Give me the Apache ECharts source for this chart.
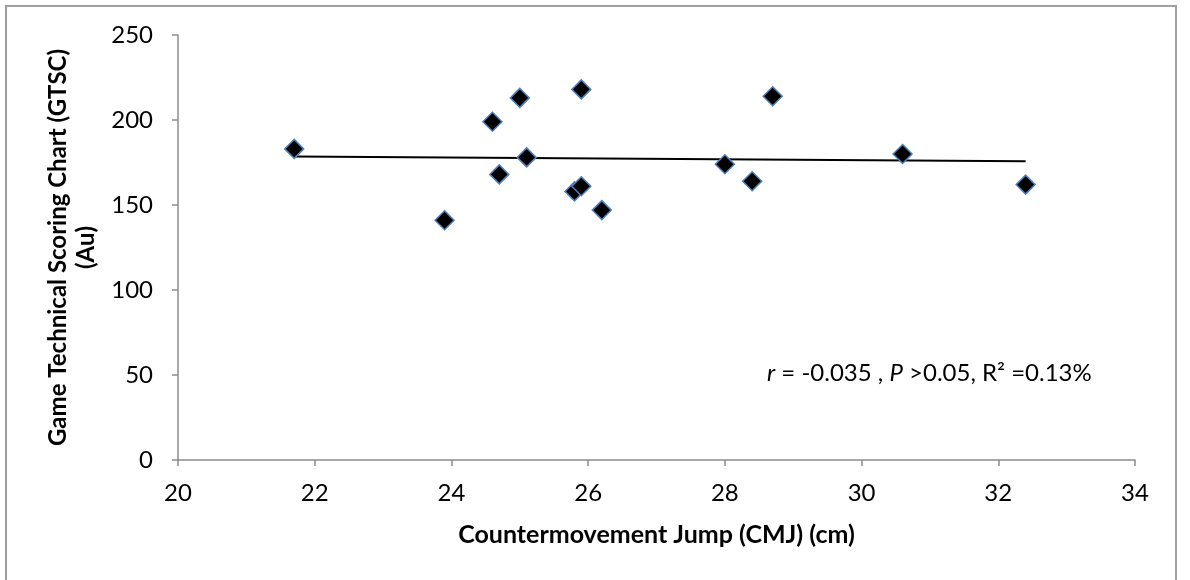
<!DOCTYPE html>
<html>
<head>
<meta charset="utf-8">
<script src="https://cdn.jsdelivr.net/npm/echarts@6/dist/echarts.min.js"></script>
<style>
html,body{margin:0;padding:0;background:#fff;}
#frame{position:absolute;left:5px;top:5px;width:1172px;height:600px;border:2px solid #a0a0a0;box-sizing:border-box;}
#chart{position:absolute;left:0;top:0;width:1190px;height:580px;}
</style>
</head>
<body>
<div id="frame"></div>
<div id="chart"></div>
<script>
const cmj = [21.7, 23.9, 24.6, 24.7, 25.0, 25.1, 25.8, 25.9, 25.9, 26.2, 28.0, 28.4, 28.7, 30.6, 32.4];
const gtsc = [183, 141, 199, 168, 213, 178, 158, 161, 218, 147, 174, 164, 214, 180, 162];
const trendX = [21.7, 32.4];
const trendY = [178.6, 175.8];
const xTitle = 'Countermovement Jump (CMJ) (cm)';
const yTitle = 'Game Technical Scoring Chart (GTSC)\n(Au)';
const FONT = 'Lato';

const chart = echarts.init(document.getElementById('chart'));
const axisLine = {show: true, onZero: false, lineStyle: {color: '#8c8c8c', width: 1.5}};
chart.setOption({
  animation: false,
  grid: {left: 178, right: 55, top: 35, bottom: 120},
  xAxis: {
    type: 'value', min: 20, max: 34, interval: 2,
    axisLine: axisLine,
    axisTick: {show: true, length: 6, lineStyle: {color: '#8c8c8c', width: 1.5}},
    splitLine: {show: false},
    axisLabel: {color: '#000', fontFamily: FONT, fontSize: 24, margin: 21},
    name: xTitle, nameLocation: 'middle', nameGap: 62,
    nameTextStyle: {color: '#000', fontFamily: FONT, fontSize: 25, fontWeight: 'bold'}
  },
  yAxis: {
    type: 'value', min: 0, max: 250, interval: 50,
    axisLine: axisLine,
    axisTick: {show: true, length: 6, lineStyle: {color: '#8c8c8c', width: 1.5}},
    splitLine: {show: false},
    axisLabel: {color: '#000', fontFamily: FONT, fontSize: 24, margin: 25},
    name: yTitle, nameLocation: 'middle', nameGap: 127, nameRotate: 90,
    nameTextStyle: {color: '#000', fontFamily: FONT, fontSize: 24, fontWeight: 'bold', lineHeight: 28, align: 'center', verticalAlign: 'top'}
  },
  series: [
    {
      type: 'line',
      data: trendX.map((x, i) => [x, trendY[i]]),
      showSymbol: false, symbol: 'none',
      lineStyle: {color: '#000', width: 2},
      z: 2
    },
    {
      type: 'scatter',
      data: cmj.map((x, i) => [x, gtsc[i]]),
      symbol: 'diamond', symbolSize: 19,
      itemStyle: {color: '#000', borderColor: '#4f81bd', borderWidth: 1.5, opacity: 1},
      z: 3
    }
  ],
  graphic: [{
    type: 'text', left: 767, top: 361,
    style: {
      rich: {
        i: {fontFamily: FONT, fontSize: 24, fontStyle: 'italic', fill: '#000'},
        n: {fontFamily: FONT, fontSize: 24, fill: '#000'}
      },
      text: '{i|r}{n| = -0.035 , }{i|P}{n| >0.05, R² =0.13%}'
    }
  }]
});
</script>
</body>
</html>
